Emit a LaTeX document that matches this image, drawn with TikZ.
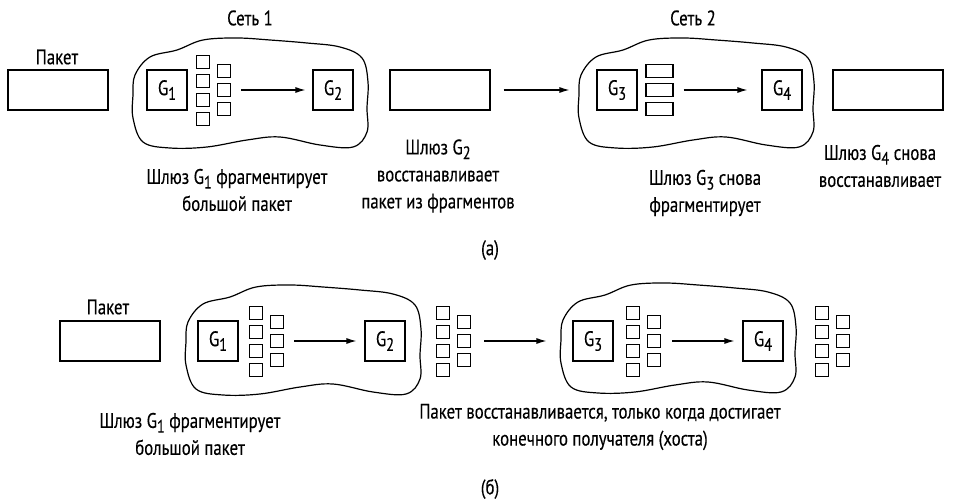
\documentclass[tikz,border=0pt]{standalone}
\usepackage{fontspec}
\setmainfont{PT Sans}[FakeStretch=0.8,FakeBold=0.3]
\usetikzlibrary{arrows.meta}
\tikzset{
  paket/.style={draw,line width=1.1pt,minimum width=100pt,minimum height=40pt,inner sep=0pt},
  gbox/.style={draw,line width=1.1pt,minimum width=40pt,minimum height=40pt,inner sep=0pt},
  teil/.style={draw,line width=1.1pt,minimum width=13pt,minimum height=13pt,inner sep=0pt},
  balken/.style={draw,line width=1.1pt,minimum width=27pt,minimum height=13pt,inner sep=0pt},
  pfeil/.style={-{Latex[length=10pt,width=6pt]},line width=1.1pt},
  netz/.style={line width=1.2pt},
  txt/.style={align=center,inner sep=0pt},
}
\newcommand{\gw}[1]{G\raisebox{-0.45ex}{\fontsize{18}{18}\selectfont#1}}
% Wolke um ein Netz, relativ zum Mittelpunkt
\newcommand{\wolke}{\draw[netz] plot[smooth cycle,tension=0.6] coordinates {
  (-115,-18) (-100,-36) (-73,-43) (-47,-53) (-13,-55) (20,-53) (57,-50)
  (90,-46) (112,-35) (118,-11) (117,15) (117,39) (103,54) (70,52) (30,44)
  (-3,47) (-43,54) (-80,55) (-107,49) (-117,25) (-117,2)};}
% Fragmente: zwei Spalten (4 + 3 Kaestchen)
\newcommand{\fragmente}[3]{%
  \foreach \i in {1,...,4}
    \node[teil] (#1l\i) at (#2,{#3+(\i-2.5)*19+0.5}) {};
  \foreach \i in {1,...,3}
    \node[teil] (#1r\i) at ({#2+21},{#3+(\i-2)*19}) {};
}

\begin{document}
\begin{tikzpicture}[x=1pt,y=-1pt,font=\fontsize{21}{27}\selectfont]
  \useasboundingbox (0,0) rectangle (953,503);
  % (а): Fragmentierung in jedem Netz
  \node (net1) at (250,18) {Сеть 1};
  \node (net2) at (693,18) {Сеть 2};
  \node (pklbl) at (57,57) {Пакет};
  \node[paket] (pk1) at (58,90) {};
  \begin{scope}[shift={(250,93)}] \wolke \end{scope}
  \node[gbox] (ga1) at (167,90) {\gw1};
  \fragmente{fa}{203}{90}
  \node[gbox] (ga2) at (333,90) {\gw2};
  \draw[pfeil,shorten <=10pt,shorten >=7pt] (far2) -- (ga2);
  \node[paket] (pk2) at (440,90) {};
  \begin{scope}[shift={(696,93)}] \wolke \end{scope}
  \node[gbox] (ga3) at (617,90) {\gw3};
  \foreach \i in {1,2,3}
    \node[balken] (bk\i) at (659.5,{71+(\i-1)*19}) {};
  \node[gbox] (ga4) at (782,90) {\gw4};
  \draw[pfeil,shorten <=13pt,shorten >=27pt] (pk2) -- (ga3);
  \draw[pfeil,shorten <=10pt,shorten >=14pt] (bk2) -- (ga4);
  \node[paket,minimum width=110pt] (pk3) at (888,90) {};
  \node[txt] (ta1) at (237,190) {Шлюз \gw1 фрагментирует\\большой пакет};
  \node[txt] (ta2) at (438,176) {Шлюз \gw2\\восстанавливает\\пакет из фрагментов};
  \node[txt] (ta3) at (705,193) {Шлюз \gw3 снова\\фрагментирует};
  \node[txt] (ta4) at (880,166) {Шлюз \gw4 снова\\восстанавливает};
  \node (capa) at (490,250) {(а)};
  % (б): Zusammensetzen erst beim Empfaenger
  \node (pklbl2) at (108,307) {Пакет};
  \node[paket] (pk4) at (110,341) {};
  \begin{scope}[shift={(303,340)}] \wolke \end{scope}
  \node[gbox] (gb1) at (218,341) {\gw1};
  \fragmente{fb}{256}{341}
  \node[gbox] (gb2) at (385,341) {\gw2};
  \draw[pfeil,shorten <=10pt,shorten >=8pt] (fbr2) -- (gb2);
  \fragmente{fc}{443}{341}
  \begin{scope}[shift={(678,338)}] \wolke \end{scope}
  \node[gbox] (gb3) at (593,341) {\gw3};
  \draw[pfeil,shorten <=13pt,shorten >=26pt] (fcr2) -- (gb3);
  \fragmente{fd}{633}{341}
  \node[gbox] (gb4) at (763,341) {\gw4};
  \draw[pfeil,shorten <=11pt,shorten >=8pt] (fdr2) -- (gb4);
  \fragmente{fe}{822}{341}
  \node[txt] (tb1) at (190,434) {Шлюз \gw1 фрагментирует\\большой пакет};
  \node[txt] (tb2) at (600,427) {Пакет восстанавливается, только когда достигает\\конечного получателя (хоста)};
  \node (capb) at (490,489) {(б)};
\end{tikzpicture}
\end{document}
